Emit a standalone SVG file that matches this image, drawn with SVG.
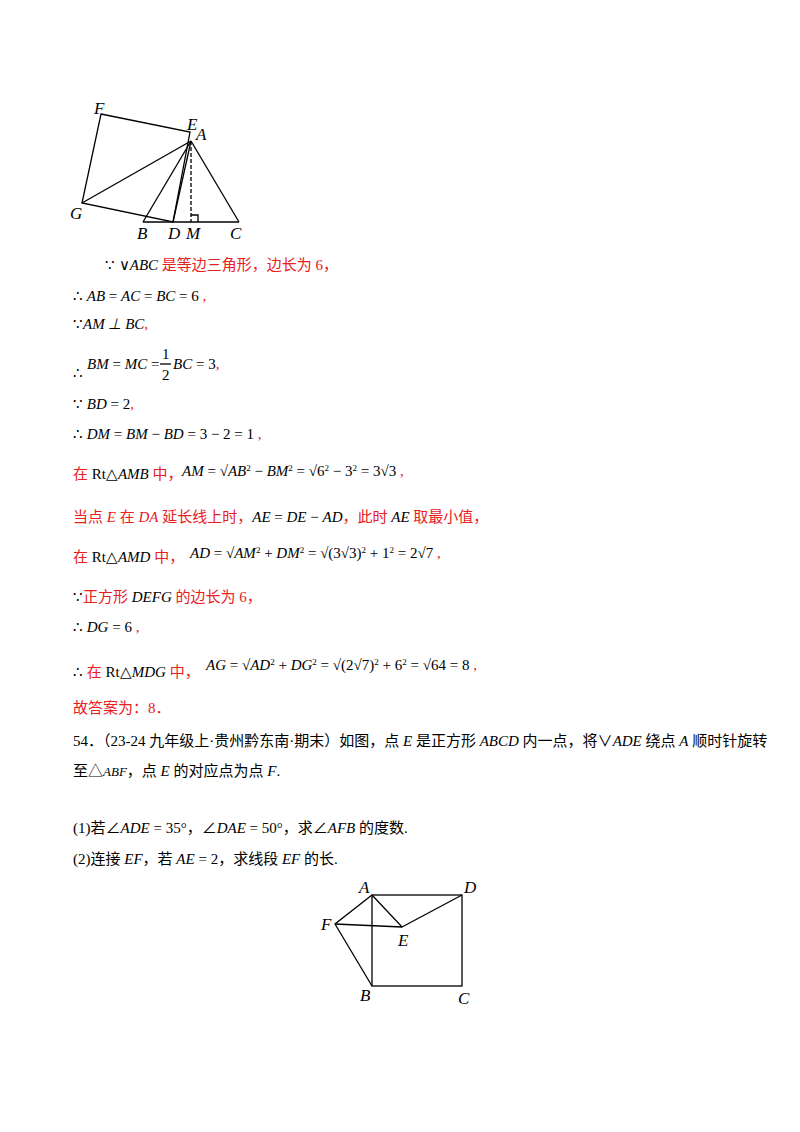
<svg xmlns="http://www.w3.org/2000/svg" width="800" height="1132" viewBox="0 0 800 1132">
<style>
.l{stroke:#000;stroke-width:1.3;fill:none}
.m{font-family:"Liberation Serif",serif;font-style:italic;font-size:15px;fill:#000}
.n{font-family:"Liberation Serif",serif;font-size:15px;fill:#000}
.r{font-family:"Liberation Serif","Noto Sans CJK SC",serif;font-size:15px;fill:#e8201e}
.c{font-family:"Liberation Serif","Noto Sans CJK SC",serif;font-size:15px;fill:#000}
.s{font-size:9px}
.lab{font-family:"Liberation Serif",serif;font-style:italic;font-size:17px;fill:#000}
</style>
<rect width="800" height="1132" fill="#fff"/>
<g id="fig1">
<polygon class="l" points="101,114 190,132 173,222 82,203"/>
<line class="l" x1="143" y1="222" x2="239" y2="222"/>
<line class="l" x1="191" y1="141" x2="82" y2="203"/>
<line class="l" x1="191" y1="141" x2="143" y2="222"/>
<line class="l" x1="191" y1="141" x2="173" y2="222"/>
<line class="l" x1="191" y1="141" x2="239" y2="222"/>
<line class="l" x1="191" y1="141" x2="191" y2="222" stroke-dasharray="4,2"/>
<polyline class="l" points="191,215 198,215 198,222"/>
<text class="lab" x="94" y="114">F</text><text class="lab" x="187" y="130">E</text><text class="lab" x="196" y="140">A</text>
<text class="lab" x="70" y="219">G</text><text class="lab" x="137" y="239">B</text><text class="lab" x="168" y="239">D</text><text class="lab" x="186" y="239">M</text><text class="lab" x="230" y="239">C</text>
</g>
<g id="text1">
<text x="105" y="270"><tspan class="n">∵ ∨</tspan><tspan class="m">ABC</tspan><tspan class="r"> 是等边三角形，边长为 6，</tspan></text>
<text x="73" y="301"><tspan class="n">∴ </tspan><tspan class="m">AB</tspan><tspan class="n"> = </tspan><tspan class="m">AC</tspan><tspan class="n"> = </tspan><tspan class="m">BC</tspan><tspan class="n"> = 6 </tspan><tspan class="r">  ,</tspan></text>
<text x="73" y="329"><tspan class="n" font-size="13">∵</tspan><tspan class="m" font-size="13">AM ⊥ BC</tspan><tspan class="r">,</tspan></text>
<text class="n" x="73" y="378">∴</text>
<text x="87" y="369"><tspan class="m">BM</tspan><tspan class="n"> = </tspan><tspan class="m">MC</tspan><tspan class="n"> = </tspan></text>
<text class="n" x="162" y="359">1</text><line class="l" x1="160" y1="364" x2="171" y2="364" stroke-width="1"/><text class="n" x="162" y="380">2</text>
<text x="173" y="369"><tspan class="m">BC</tspan><tspan class="n"> = 3</tspan><tspan class="r">,</tspan></text>
<text x="73" y="409"><tspan class="n">∵ </tspan><tspan class="m">BD</tspan><tspan class="n"> = 2</tspan><tspan class="r">,</tspan></text>
<text x="73" y="439"><tspan class="n">∴ </tspan><tspan class="m">DM</tspan><tspan class="n"> = </tspan><tspan class="m">BM</tspan><tspan class="n"> − </tspan><tspan class="m">BD</tspan><tspan class="n"> = 3 − 2 = 1</tspan><tspan class="r"> ,</tspan></text>
<text x="73" y="479"><tspan class="r" font-size="16">在 </tspan><tspan class="n">Rt△</tspan><tspan class="m">AMB</tspan><tspan class="r" font-size="16"> 中，</tspan></text>
<text x="182" y="476"><tspan class="m">AM</tspan><tspan class="n"> = √</tspan><tspan class="m">AB</tspan><tspan class="n s" baseline-shift="super">2</tspan><tspan class="n"> − </tspan><tspan class="m">BM</tspan><tspan class="n s" baseline-shift="super">2</tspan><tspan class="n"> = √6</tspan><tspan class="n s" baseline-shift="super">2</tspan><tspan class="n"> − 3</tspan><tspan class="n s" baseline-shift="super">2</tspan><tspan class="n"> = 3√3</tspan><tspan class="r">  ,</tspan></text>
<text x="73" y="522"><tspan class="r" font-size="16">当点 </tspan><tspan class="r" font-style="italic">E</tspan><tspan class="r" font-size="16"> 在 </tspan><tspan class="r" font-style="italic">DA</tspan><tspan class="r" font-size="16"> 延长线上时，</tspan><tspan class="m">AE</tspan><tspan class="n"> = </tspan><tspan class="m">DE</tspan><tspan class="n"> − </tspan><tspan class="m">AD</tspan><tspan class="r" font-size="16">，此时 </tspan><tspan class="m">AE</tspan><tspan class="r" font-size="16"> 取最小值，</tspan></text>
<text x="73" y="562"><tspan class="r" font-size="16">在 </tspan><tspan class="n">Rt△</tspan><tspan class="m">AMD</tspan><tspan class="r" font-size="16"> 中，</tspan></text>
<text x="190" y="558"><tspan class="m">AD</tspan><tspan class="n"> = √</tspan><tspan class="m">AM</tspan><tspan class="n s" baseline-shift="super">2</tspan><tspan class="n"> + </tspan><tspan class="m">DM</tspan><tspan class="n s" baseline-shift="super">2</tspan><tspan class="n"> = √(3√3)</tspan><tspan class="n s" baseline-shift="super">2</tspan><tspan class="n"> + 1</tspan><tspan class="n s" baseline-shift="super">2</tspan><tspan class="n"> = 2√7</tspan><tspan class="r"> ,</tspan></text>
<text x="73" y="602"><tspan class="n">∵</tspan><tspan class="r" font-size="16">正方形 </tspan><tspan class="m">DEFG</tspan><tspan class="r" font-size="16"> 的边长为 6，</tspan></text>
<text x="73" y="632"><tspan class="n">∴ </tspan><tspan class="m">DG</tspan><tspan class="n"> = 6</tspan><tspan class="r"> ,</tspan></text>
<text x="73" y="677"><tspan class="n">∴ </tspan><tspan class="r" font-size="16">在 </tspan><tspan class="n">Rt△</tspan><tspan class="m">MDG</tspan><tspan class="r" font-size="16"> 中，</tspan></text>
<text x="206" y="670"><tspan class="m">AG</tspan><tspan class="n"> = √</tspan><tspan class="m">AD</tspan><tspan class="n s" baseline-shift="super">2</tspan><tspan class="n"> + </tspan><tspan class="m">DG</tspan><tspan class="n s" baseline-shift="super">2</tspan><tspan class="n"> = √(2√7)</tspan><tspan class="n s" baseline-shift="super">2</tspan><tspan class="n"> + 6</tspan><tspan class="n s" baseline-shift="super">2</tspan><tspan class="n"> = √64 = 8</tspan><tspan class="r"> ,</tspan></text>
<text class="r" x="73" y="713" font-size="16">故答案为：8．</text>
<text class="c" x="73" y="746" font-size="16">54．（23-24 九年级上·贵州黔东南·期末）如图，点 <tspan font-style="italic">E</tspan> 是正方形 <tspan font-style="italic">ABCD</tspan> 内一点，将∨<tspan font-style="italic">ADE</tspan> 绕点 <tspan font-style="italic">A</tspan> 顺时针旋转</text>
<text class="c" x="73" y="776" font-size="16">至△<tspan font-style="italic" font-size="13">ABF</tspan>，点 <tspan font-style="italic">E</tspan> 的对应点为点 <tspan font-style="italic">F</tspan>.</text>
<text class="c" x="73" y="833" font-size="16">(1)若∠<tspan font-style="italic">ADE</tspan> = 35°，∠<tspan font-style="italic">DAE</tspan> = 50°，求∠<tspan font-style="italic">AFB</tspan> 的度数.</text>
<text class="c" x="73" y="864" font-size="16">(2)连接 <tspan font-style="italic">EF</tspan>，若 <tspan font-style="italic">AE</tspan> = 2，求线段 <tspan font-style="italic">EF</tspan> 的长.</text>
</g>
<g id="fig2">
<rect class="l" x="372" y="895" width="90" height="91"/>
<polyline class="l" points="372,895 335,924 372,986"/>
<polyline class="l" points="372,895 402,927 462,895"/>
<line class="l" x1="335" y1="924" x2="402" y2="927"/>
<text class="lab" x="359" y="893">A</text><text class="lab" x="464" y="893">D</text><text class="lab" x="321" y="930">F</text>
<text class="lab" x="398" y="946">E</text><text class="lab" x="360" y="1001">B</text><text class="lab" x="458" y="1004">C</text>
</g>
</svg>
